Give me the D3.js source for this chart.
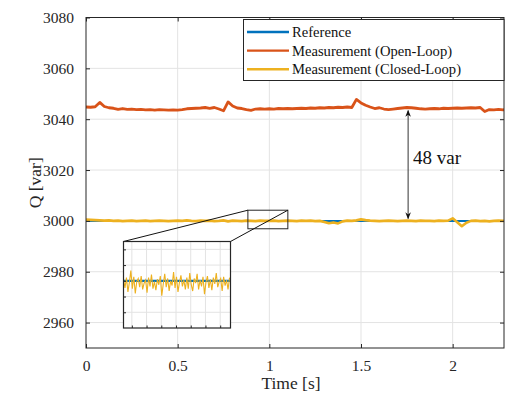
<!DOCTYPE html>
<meta charset="utf-8">
<body style="margin:0;background:#fff">
<script src="https://d3js.org/d3.v7.min.js"></script>
<script>
// sample grid for the main traces (s)
var tStep = 0.025;
var refTime = [0, 2.3];
var refQ = [3000, 3000];

var openLoopQ = [
  3044.8, 3044.7, 3044.9, 3046.6, 3045.0, 3044.5, 3044.3, 3043.9, 3044.2, 3043.9,
  3044.0, 3043.8, 3043.9, 3043.7, 3043.8, 3043.6, 3043.8, 3043.7, 3043.6, 3043.7,
  3043.6, 3043.8, 3044.1, 3044.2, 3044.3, 3044.4, 3044.6, 3044.3, 3044.6, 3044.0,
  3043.3, 3046.8, 3045.2, 3044.4, 3044.2, 3043.8, 3043.5, 3044.0, 3044.1, 3044.0,
  3044.1, 3044.0, 3044.2, 3044.1, 3044.2, 3044.1, 3044.2, 3044.3, 3044.2, 3044.4,
  3044.3, 3044.5, 3044.4, 3044.6, 3044.5, 3044.7, 3044.6, 3044.8, 3044.6, 3047.8,
  3046.4, 3045.5, 3044.8, 3044.2, 3044.5, 3044.0, 3043.8, 3044.0, 3044.2, 3044.4,
  3044.6, 3044.5, 3044.3, 3044.1, 3044.0, 3044.1, 3044.2, 3044.1, 3044.3, 3044.2,
  3044.3, 3044.4, 3044.3, 3044.4, 3044.5, 3044.4, 3044.6, 3043.0, 3043.8, 3043.7,
  3043.9, 3043.7, 3043.8
];

var closedLoopQ = [
  3000.5, 3000.4, 3000.3, 3000.2, 3000.1, 3000.2, 3000.0, 3000.1, 2999.9, 3000.0,
  3000.1, 2999.9, 3000.0, 3000.1, 2999.9, 3000.0, 3000.1, 3000.0, 2999.9, 3000.0,
  3000.1, 3000.0, 3000.2, 3000.0, 2999.9, 3000.1, 3000.0, 3000.1, 2999.9, 3000.0,
  3000.2, 2999.8, 3000.1, 3000.0, 2999.9, 3000.1, 3000.0, 2999.9, 3000.1, 3000.0,
  3000.0, 3000.1, 2999.9, 3000.0, 3000.1, 3000.0, 2999.9, 3000.1, 3000.0, 3000.1,
  2999.9, 3000.0, 2999.6, 2999.1, 2999.4, 2999.0, 2999.8, 3000.1, 3000.0, 3000.2,
  3000.6, 3000.3, 3000.1, 3000.0, 2999.9, 3000.0, 3000.1, 3000.0, 2999.9, 3000.0,
  3000.1, 3000.0, 2999.9, 3000.1, 3000.0, 3000.0, 2999.9, 3000.1, 3000.0, 3000.1,
  3001.0, 2999.5, 2997.9, 2999.3, 3000.0, 3000.1, 2999.9, 3000.0, 2999.8, 3000.0,
  3000.1, 3000.0, 3000.1
];

// zoomed window
var insetStart = 0.883, insetStepT = 0.003;
var insetClosedQ = [
  3000.2, 2999.1, 3000.4, 2998.6, 2999.8, 3001.3, 2999.0, 3000.5, 2998.4, 2999.9,
  3000.3, 2999.2, 3000.6, 2998.9, 2999.7, 3000.1, 2998.5, 3000.4, 2999.3, 3000.8,
  2999.0, 2999.9, 2998.8, 3000.2, 2999.5, 3000.6, 2998.1, 2999.6, 3000.9, 2999.2,
  3000.3, 2998.7, 3000.0, 2999.4, 3001.1, 2999.1, 3000.5, 2998.6, 2999.8, 3000.7,
  2999.3, 3000.1, 2998.9, 3000.4, 2999.0, 3001.0, 2999.5, 2998.7, 3000.3, 2999.7,
  3000.9, 2998.9, 3000.1, 2999.3, 3000.5, 2998.3, 2999.8, 3000.6, 2999.1, 3000.2,
  2998.8, 3000.4, 2999.6, 3001.0, 2999.2, 2999.9, 3000.3, 2998.7, 3000.5, 2999.4,
  3000.1, 2998.9, 3000.4
];
var zoomX = [0.883, 1.101];
var zoomY = [2996.9, 3004.2];
var insetYDomain = [2994, 3005];
var insetXTicks = [0.9, 0.93, 0.96, 0.99, 1.02, 1.05, 1.08];
var insetYTicks = [2996, 2998, 3000, 3002, 3004];

var xTicks = [0, 0.5, 1, 1.5, 2];
var yTicks = [2960, 2980, 3000, 3020, 3040, 3060, 3080];
var arrowT = 1.757, arrowQ = [3043.4, 3000.9];
var gapLabel = "48 var";
var seriesNames = ["Reference", "Measurement (Open-Loop)", "Measurement (Closed-Loop)"];
var colors = ["#0072BD", "#D95319", "#EDB120"];

var W = 505, H = 394;
var pL = 86, pR = 504, pT = 17.5, pB = 348;
var axisCol = "#262626", gridCol = "#e3e3e3", font = "'Liberation Serif', 'Times New Roman', serif";

var svg = d3.select("body").append("svg").attr("width", W).attr("height", H)
  .style("font-family", font);

var x = d3.scaleLinear().domain([0, 2.28]).range([pL, pR]);
var y = d3.scaleLinear().domain([2950, 3080]).range([pB, pT]);

// grid
svg.append("g").selectAll("line").data(xTicks.slice(1)).enter().append("line")
  .attr("x1", d => x(d)).attr("x2", d => x(d)).attr("y1", pT).attr("y2", pB)
  .attr("stroke", gridCol);
svg.append("g").selectAll("line").data(yTicks).enter().append("line")
  .attr("x1", pL).attr("x2", pR).attr("y1", d => y(d)).attr("y2", d => y(d))
  .attr("stroke", gridCol);

svg.append("clipPath").attr("id", "clip").append("rect")
  .attr("x", pL).attr("y", pT).attr("width", pR - pL).attr("height", pB - pT);

var plot = svg.append("g").attr("clip-path", "url(#clip)");
var line = d3.line().x(d => x(d[0])).y(d => y(d[1]));

plot.append("path").datum(refTime.map((t, i) => [t, refQ[i]]))
  .attr("d", line).attr("fill", "none").attr("stroke", colors[0]).attr("stroke-width", 2);
plot.append("path").datum(openLoopQ.map((v, i) => [i * tStep, v]))
  .attr("d", line).attr("fill", "none").attr("stroke", colors[1]).attr("stroke-width", 2.8)
  .attr("stroke-linejoin", "round");
plot.append("path").datum(closedLoopQ.map((v, i) => [i * tStep, v]))
  .attr("d", line).attr("fill", "none").attr("stroke", colors[2]).attr("stroke-width", 2.6)
  .attr("stroke-linejoin", "round");

// axes box + ticks
svg.append("rect").attr("x", pL).attr("y", pT).attr("width", pR - pL).attr("height", pB - pT)
  .attr("fill", "none").attr("stroke", axisCol).attr("stroke-width", 1);
svg.append("g").attr("transform", "translate(0," + pB + ")")
  .call(d3.axisBottom(x).tickValues(xTicks).tickSize(-4).tickPadding(12).tickFormat(d3.format("")))
  .call(g => g.select(".domain").remove());
svg.append("g").attr("transform", "translate(0," + pT + ")")
  .call(d3.axisTop(x).tickValues(xTicks).tickSize(-4).tickFormat(""))
  .call(g => g.select(".domain").remove());
svg.append("g").attr("transform", "translate(" + pL + ",0)")
  .call(d3.axisLeft(y).tickValues(yTicks).tickSize(-4).tickPadding(12).tickFormat(d3.format("")))
  .call(g => g.select(".domain").remove());
svg.append("g").attr("transform", "translate(" + pR + ",0)")
  .call(d3.axisRight(y).tickValues(yTicks).tickSize(-4).tickFormat(""))
  .call(g => g.select(".domain").remove());
svg.selectAll(".tick line").attr("stroke", axisCol);
svg.selectAll(".tick text").attr("fill", axisCol).style("font-family", font).style("font-size", "15.5px");

svg.append("text").attr("x", 291).attr("y", 389).attr("text-anchor", "middle")
  .attr("fill", axisCol).style("font-size", "17.5px").text("Time [s]");
svg.append("text").attr("transform", "translate(41," + (pT + pB) / 2 + ") rotate(-90)")
  .attr("text-anchor", "middle").attr("fill", axisCol).style("font-size", "17.5px").text("Q [var]");

// zoom rectangle and connectors
var zx0 = x(zoomX[0]), zx1 = x(zoomX[1]), zy0 = y(zoomY[1]), zy1 = y(zoomY[0]);
var ix0 = 123.5, ix1 = 230.5, iy0 = 241.5, iy1 = 328;
svg.append("rect").attr("x", zx0).attr("y", zy0).attr("width", zx1 - zx0).attr("height", zy1 - zy0)
  .attr("fill", "none").attr("stroke", axisCol).attr("stroke-width", 1);
svg.append("line").attr("x1", ix0).attr("y1", iy0).attr("x2", zx0).attr("y2", zy0)
  .attr("stroke", "#111").attr("stroke-width", 1);
svg.append("line").attr("x1", ix1).attr("y1", iy0).attr("x2", zx1).attr("y2", zy0)
  .attr("stroke", "#111").attr("stroke-width", 1);

// inset axes
var xi = d3.scaleLinear().domain(zoomX).range([ix0, ix1]);
var yi = d3.scaleLinear().domain(insetYDomain).range([iy1, iy0]);
var inset = svg.append("g");
inset.append("rect").attr("x", ix0).attr("y", iy0).attr("width", ix1 - ix0).attr("height", iy1 - iy0)
  .attr("fill", "#fff");
inset.selectAll(".gx").data(insetXTicks).enter().append("line")
  .attr("x1", d => xi(d)).attr("x2", d => xi(d)).attr("y1", iy0).attr("y2", iy1).attr("stroke", gridCol);
inset.selectAll(".gy").data(insetYTicks).enter().append("line")
  .attr("x1", ix0).attr("x2", ix1).attr("y1", d => yi(d)).attr("y2", d => yi(d)).attr("stroke", gridCol);
svg.append("clipPath").attr("id", "clipi").append("rect")
  .attr("x", ix0).attr("y", iy0).attr("width", ix1 - ix0).attr("height", iy1 - iy0);
var ip = inset.append("g").attr("clip-path", "url(#clipi)");
var iline = d3.line().x(d => xi(d[0])).y(d => yi(d[1]));
ip.append("path").datum(refTime.map((t, i) => [t, refQ[i]]))
  .attr("d", iline).attr("fill", "none").attr("stroke", colors[0]).attr("stroke-width", 2.2);
ip.append("path").datum(insetClosedQ.map((v, i) => [insetStart + i * insetStepT, v]))
  .attr("d", iline).attr("fill", "none").attr("stroke", colors[2]).attr("stroke-width", 1.1);
inset.append("g").attr("transform", "translate(0," + iy1 + ")")
  .call(d3.axisBottom(xi).tickValues(insetXTicks).tickSize(-2.5).tickFormat(""))
  .call(g => g.select(".domain").remove());
inset.append("g").attr("transform", "translate(" + ix0 + ",0)")
  .call(d3.axisLeft(yi).tickValues(insetYTicks).tickSize(-2.5).tickFormat(""))
  .call(g => g.select(".domain").remove());
inset.selectAll(".tick line").attr("stroke", axisCol);
inset.append("rect").attr("x", ix0).attr("y", iy0).attr("width", ix1 - ix0).attr("height", iy1 - iy0)
  .attr("fill", "none").attr("stroke", axisCol).attr("stroke-width", 1.2);

// double arrow annotation
var defs = svg.append("defs");
defs.append("marker").attr("id", "ah").attr("viewBox", "0 0 10 10").attr("refX", 9).attr("refY", 5)
  .attr("markerWidth", 7).attr("markerHeight", 7).attr("orient", "auto-start-reverse")
  .append("path").attr("d", "M0,1 L10,5 L0,9 L3,5 Z").attr("fill", "#111");
svg.append("line").attr("x1", x(arrowT)).attr("x2", x(arrowT))
  .attr("y1", y(arrowQ[0])).attr("y2", y(arrowQ[1]))
  .attr("stroke", "#333").attr("stroke-width", 1)
  .attr("marker-start", "url(#ah)").attr("marker-end", "url(#ah)");
svg.append("text").attr("x", x(arrowT) + 5).attr("y", 164).attr("fill", "#111")
  .style("font-size", "19px").text(gapLabel);

// legend
var lg = svg.append("g");
lg.append("rect").attr("x", 243.5).attr("y", 19.5).attr("width", pR - 243.5).attr("height", 61)
  .attr("fill", "#fff").attr("stroke", axisCol).attr("stroke-width", 1);
var rows = lg.selectAll(".row").data(seriesNames).enter().append("g")
  .attr("transform", (d, i) => "translate(0," + (32 + i * 18.6) + ")");
rows.append("line").attr("x1", 247).attr("x2", 289).attr("stroke", (d, i) => colors[i]).attr("stroke-width", 2.4);
rows.append("text").attr("x", 292).attr("y", 5).attr("fill", "#111").style("font-size", "14.6px").text(d => d);
</script>
</body>
